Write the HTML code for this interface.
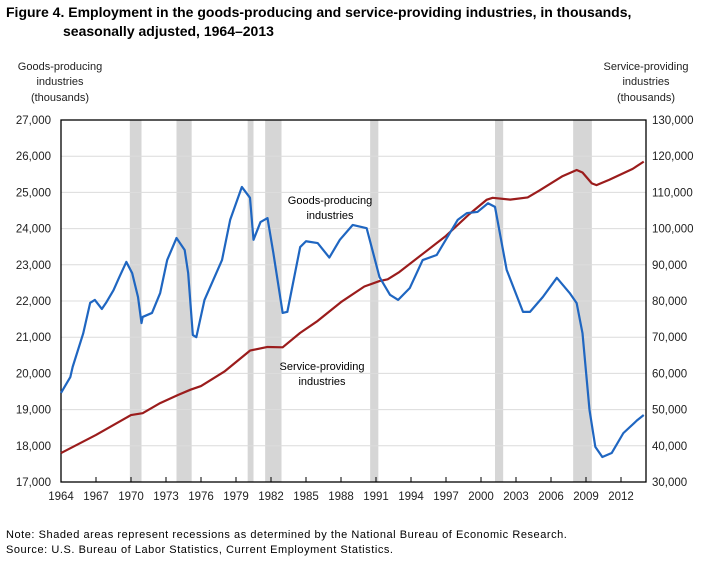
<!DOCTYPE html>
<html><head><meta charset="utf-8"><style>
body{margin:0;background:#fff;font-family:"Liberation Sans",sans-serif;}
svg text{font-family:"Liberation Sans",sans-serif;}
</style></head><body>
<svg id="c" width="701" height="559" xmlns="http://www.w3.org/2000/svg">
<text x="6" y="17" font-size="14" font-weight="bold">Figure 4. Employment in the goods-producing and service-providing industries, in thousands,</text>
<text x="63" y="36" font-size="14" font-weight="bold">seasonally adjusted, 1964–2013</text>
<g font-size="11" fill="#222" text-anchor="middle">
<text x="60" y="70">Goods-producing</text><text x="60" y="85">industries</text><text x="60" y="101">(thousands)</text></g>
<g font-size="11" fill="#222" text-anchor="middle">
<text x="646" y="70">Service-providing</text><text x="646" y="85">industries</text><text x="646" y="101">(thousands)</text></g>
<g id="g"></g>
<text x="330" y="204" font-size="11" text-anchor="middle">Goods-producing</text>
<text x="330" y="219" font-size="11" text-anchor="middle">industries</text>
<text x="322" y="370" font-size="11" text-anchor="middle">Service-providing</text>
<text x="322" y="385" font-size="11" text-anchor="middle">industries</text>
<text x="6" y="538" font-size="11" letter-spacing="0.55">Note: Shaded areas represent recessions as determined by the National Bureau of Economic Research.</text>
<text x="6" y="553" font-size="11" letter-spacing="0.55">Source: U.S. Bureau of Labor Statistics, Current Employment Statistics.</text>
</svg>
<script>
const recessions=[[1969.9,1970.9],[1973.9,1975.2],[1980.0,1980.5],[1981.5,1982.9],[1990.5,1991.2],[2001.2,2001.9],[2007.9,2009.5]];
const goodsYears=[1964,1964.8,1965,1965.9,1966.5,1966.9,1967.5,1967.9,1968.5,1969,1969.6,1970.1,1970.6,1970.9,1971,1971.8,1972.5,1973.1,1973.9,1974.6,1974.9,1975.3,1975.6,1976.3,1977.8,1978.5,1979.5,1980.2,1980.5,1981.1,1981.7,1982.2,1983,1983.4,1984.5,1985,1986,1987,1987.9,1989,1990.2,1991.3,1992.2,1992.9,1993.9,1995,1996.2,1998,1998.8,1999.7,2000.6,2001.2,2002.2,2003.6,2004.2,2005.3,2006.5,2007.6,2008.2,2008.7,2009.3,2009.8,2010.4,2011.2,2012.2,2013.4,2013.95];
const goodsValues=[19460,19900,20180,21100,21950,22030,21780,21970,22300,22660,23080,22770,22110,21390,21560,21670,22220,23130,23740,23410,22770,21060,21000,22030,23130,24240,25150,24850,23690,24180,24290,23330,21670,21700,23490,23650,23600,23200,23690,24100,24010,22660,22170,22030,22360,23130,23270,24240,24430,24460,24700,24600,22860,21700,21700,22110,22640,22220,21940,21110,18990,17970,17690,17800,18350,18710,18850];
const servYears=[1964,1967,1970,1971,1972.5,1974,1975.1,1976,1978,1980.2,1981.7,1983,1984.5,1986,1988,1990,1991.3,1992,1993,1995,1997,1999,2000.5,2001,2002.5,2004,2005,2007,2008.2,2008.7,2009.5,2009.9,2011,2013,2013.95];
const servValues=[38000,43000,48500,49000,51800,54000,55500,56500,60500,66300,67300,67200,71200,74500,79700,84000,85500,86000,88000,93000,98000,104000,108000,108500,108000,108600,110500,114500,116200,115500,112500,112000,113500,116500,118500];
const leftTicks=[17000,18000,19000,20000,21000,22000,23000,24000,25000,26000,27000];
const rightTicks=[30000,40000,50000,60000,70000,80000,90000,100000,110000,120000,130000];
const yearTicks=[1964,1967,1970,1973,1976,1979,1982,1985,1988,1991,1994,1997,2000,2003,2006,2009,2012];
const L=61,R=646,T=120,B=482;
const x=y=>L+(y-1964)*(35/3);
const yl=v=>B-(v-17000)/10000*(B-T);
const yr=v=>B-(v-30000)/100000*(B-T);
const g=document.getElementById('g');const NS='http://www.w3.org/2000/svg';
function mk(t,a){const e=document.createElementNS(NS,t);for(const k in a)e.setAttribute(k,a[k]);g.appendChild(e);return e;}
recessions.forEach(r=>{const e=mk('rect',{x:x(r[0]),y:T,width:x(r[1])-x(r[0]),height:B-T,fill:'#d6d6d6'});

});
leftTicks.forEach((v,i)=>{if(i>0&&i<leftTicks.length-1){const e=mk('line',{x1:L,x2:R,y1:yl(v),y2:yl(v),stroke:'#dcdcdc','stroke-width':1});

}
const t=mk('text',{x:L-10,y:yl(v)+4,'font-size':11.5,'text-anchor':'end',fill:'#222'});t.textContent=v.toLocaleString('en-US');

});
rightTicks.forEach(v=>{const t=mk('text',{x:R+6,y:yr(v)+4,'font-size':11.5,fill:'#222'});t.textContent=v.toLocaleString('en-US');

});
yearTicks.forEach(yv=>{const l=mk('line',{x1:x(yv),x2:x(yv),y1:B,y2:B-5,stroke:'#000'});


const t=mk('text',{x:x(yv),y:B+18,'font-size':11.5,'text-anchor':'middle',fill:'#222'});t.textContent=yv;

});
const fr=mk('rect',{x:L,y:T,width:R-L,height:B-T,fill:'none',stroke:'#000','stroke-width':1.3});


const sp=mk('polyline',{points:servYears.map((v,i)=>x(v)+','+yr(servValues[i])).join(' '),fill:'none',stroke:'#9b1c1c','stroke-width':2.2,'stroke-linejoin':'round'});


const gp=mk('polyline',{points:goodsYears.map((v,i)=>x(v)+','+yl(goodsValues[i])).join(' '),fill:'none',stroke:'#1f66c1','stroke-width':2.2,'stroke-linejoin':'round'});


</script>
</body></html>
